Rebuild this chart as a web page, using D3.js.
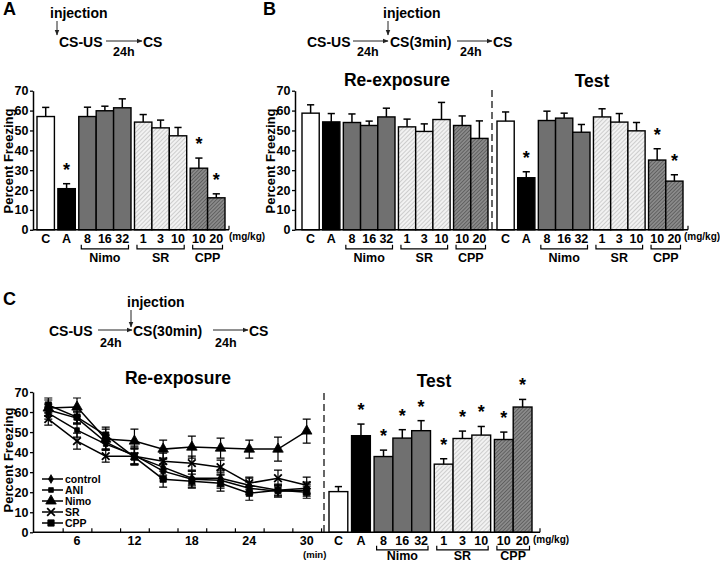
<!DOCTYPE html>
<html><head><meta charset="utf-8">
<script src="https://cdn.jsdelivr.net/npm/d3@7"></script>
<style>
body{margin:0;background:#fff}
svg{display:block}
text{font-family:"Liberation Sans",Arial,Helvetica,sans-serif;font-weight:bold;fill:#000}
</style>
</head><body>
<svg id="chart" width="720" height="564"></svg>
<script>
// ---------- data ----------
const barCats = ["C","A","8","16","32","1","3","10","10","20"];
const barGroups = ["C","A","Nimo","Nimo","Nimo","SR","SR","SR","CPP","CPP"];
const bracketGroups = ["Nimo","SR","CPP"];
const yTicks = [0,10,20,30,40,50,60,70];

// Panel A
const aMean = [57, 20.7, 57, 59.9, 61.4, 54.2, 51.3, 47.3, 31, 16.1];
const aErr  = [4.6, 2.5, 4.7, 2.3, 4.5, 3.8, 3.9, 4.2, 5.1, 2.0];
const aSig  = [0,1,0,0,0,0,0,0,1,1];

// Panel B re-exposure
const bReMean = [58.7, 54.3, 54, 52.5, 56.8, 51.8, 49.5, 55.5, 52.5, 46];
const bReErr  = [4.2, 4.2, 4.3, 2.2, 4.4, 3.9, 3.8, 8.6, 4.8, 8.8];
const bReSig  = [0,0,0,0,0,0,0,0,0,0];
// Panel B test
const bTeMean = [54.7, 26.2, 55, 56.2, 49.1, 56.8, 54.2, 49.8, 35.1, 24.5];
const bTeErr  = [4.6, 3.0, 4.7, 2.5, 3.9, 4.1, 4.3, 4.2, 5.7, 3.2];
const bTeSig  = [0,1,0,0,0,0,0,0,1,1];

// Panel C test
const cTeMean = [20.3, 48.2, 37.8, 47, 50.7, 34, 46.8, 48.5, 46.3, 62.5];
const cTeErr  = [2.5, 5.8, 3.2, 4.2, 5.0, 2.7, 3.7, 4.3, 3.7, 3.8];
const cTeSig  = [0,1,1,1,1,1,1,1,1,1];

// Panel C re-exposure time course
const minutes = [3,6,9,12,15,18,21,24,27,30];
const minuteLabels = [6,12,18,24,30];
const minuteTicks = [4.5,7.5,10.5,13.5,16.5,19.5,22.5,25.5,28.5,31.5];
const lineNames = ["control","ANI","Nimo","SR","CPP"];
const controlMean = [61, 57, 45, 38, 32.5, 27, 27, 23.5, 21, 22];
const controlErr  = [3, 3, 3.5, 4, 4, 3.5, 4, 3.5, 2.5, 3];
const aniMean = [59.5, 51, 44, 38.5, 30.5, 26.5, 26, 22, 20.5, 21];
const aniErr  = [3, 3.5, 3, 4.5, 3.5, 4, 4, 3, 3, 3];
const nimoMean = [62, 62.5, 46.5, 45.5, 41.5, 42.5, 42, 41.5, 41.5, 50.5];
const nimoErr  = [4, 4.5, 5, 6, 4.5, 5.5, 5, 4.5, 6, 6];
const srMean = [56.5, 45.5, 38, 38, 35.5, 34.5, 32.5, 24.5, 27, 23.5];
const srErr  = [3, 4, 3, 4, 4, 3.5, 3.5, 3, 4, 4];
const cppMean = [63.5, 57.5, 48.5, 37.5, 26.5, 25.5, 24.5, 19.5, 21, 20];
const cppErr  = [3.5, 3, 4, 4, 4, 3.5, 4, 3.5, 3, 3];

// ---------- setup ----------
const svg = d3.select("#chart");
const defs = svg.append("defs");

function hatch(id, bg, fg, w, sw){
  const p = defs.append("pattern").attr("id", id).attr("patternUnits","userSpaceOnUse")
    .attr("width", w).attr("height", w).attr("patternTransform","rotate(45)");
  p.append("rect").attr("width", w).attr("height", w).attr("fill", bg);
  p.append("line").attr("x1",0).attr("y1",0).attr("x2",0).attr("y2",w)
    .attr("stroke", fg).attr("stroke-width", sw);
}
hatch("srHatch", "#f2f2f2", "#a8a8a8", 3, 1);
hatch("cppHatch", "#8a8a8a", "#3c3c3c", 2.6, 1);

defs.append("marker").attr("id","arr").attr("viewBox","0 0 10 10")
  .attr("refX",9).attr("refY",5).attr("markerWidth",6).attr("markerHeight",6)
  .attr("orient","auto-start-reverse")
  .append("path").attr("d","M0,1 L10,5 L0,9 z").attr("fill","#222");

const fills = {C:"#ffffff", A:"#000000", Nimo:"#707070", SR:"url(#srHatch)", CPP:"url(#cppHatch)"};

function unitPositions(groups, gap){
  let u = 0;
  return groups.map((g,i)=>{ if(i>0 && g!==groups[i-1]) u += gap; const s=u; u+=1; return s; });
}
const units = unitPositions(barGroups, 0.2);
const totalUnits = units[units.length-1] + 1;

function yAxis(g, y, xPos){
  const ax = g.append("g").attr("transform",`translate(${xPos},0)`)
    .call(d3.axisLeft(y).tickValues(yTicks).tickSize(3).tickSizeOuter(0).tickPadding(1.5));
  ax.select(".domain").attr("stroke","#000").attr("stroke-width",1.5);
  ax.selectAll(".tick line").attr("stroke","#000").attr("stroke-width",1.3);
  ax.selectAll(".tick text").attr("font-size",12.5).attr("font-weight","bold")
    .attr("font-family","Liberation Sans, Arial, sans-serif").attr("fill","#000");
}

function yLabel(x, yc){
  svg.append("text").attr("transform",`translate(${x},${yc}) rotate(-90)`)
    .attr("text-anchor","middle").attr("dominant-baseline","central")
    .attr("font-size",13).text("Percent Freezing");
}

function barPanel(x0, x1, y, means, errs, sigs, bracketOffset, nameOffset){
  const x = d3.scaleLinear().domain([0,totalUnits]).range([x0,x1]);
  const bw = x(1) - x(0);
  const y0 = y(0);
  const g = svg.append("g");
  g.selectAll("rect.bar").data(means).join("rect")
    .attr("x",(d,i)=>x(units[i])).attr("width",bw)
    .attr("y",d=>y(d)).attr("height",d=>y0-y(d))
    .attr("fill",(d,i)=>fills[barGroups[i]])
    .attr("stroke","#000").attr("stroke-width",1.4);
  means.forEach((m,i)=>{
    const cx = x(units[i]) + bw/2;
    const top = y(m + errs[i]);
    g.append("line").attr("x1",cx).attr("x2",cx).attr("y1",y(m)).attr("y2",top)
      .attr("stroke","#000").attr("stroke-width",1.5);
    g.append("line").attr("x1",cx-3.6).attr("x2",cx+3.6).attr("y1",top).attr("y2",top)
      .attr("stroke","#000").attr("stroke-width",1.5);
    if(sigs[i]){
      g.append("text").attr("x",cx).attr("y",top-8).attr("text-anchor","middle")
        .attr("font-size",18).text("*");
    }
    g.append("text").attr("x",cx).attr("y",y0+13).attr("text-anchor","middle")
      .attr("font-size",12.5).text(barCats[i]);
  });
  bracketGroups.forEach(gr=>{
    const first = barGroups.indexOf(gr), last = barGroups.lastIndexOf(gr);
    const xa = x(units[first]) + 2.5, xb = x(units[last]) + bw - 2.5;
    const yb = y0 + bracketOffset;
    g.append("path").attr("d",`M${xa},${yb-4}V${yb}H${xb}V${yb-4}`)
      .attr("fill","none").attr("stroke","#000").attr("stroke-width",1.2);
    g.append("text").attr("x",(xa+xb)/2).attr("y",y0+nameOffset).attr("text-anchor","middle")
      .attr("font-size",12.5).text(gr);
  });
  return x;
}

function xAxisLine(xa, xb, yv){
  svg.append("line").attr("x1",xa).attr("x2",xb).attr("y1",yv).attr("y2",yv)
    .attr("stroke","#000").attr("stroke-width",1.5);
  svg.append("line").attr("x1",xb).attr("x2",xb).attr("y1",yv).attr("y2",yv-4)
    .attr("stroke","#000").attr("stroke-width",1.2);
}

function dashed(x, ya, yb){
  svg.append("line").attr("x1",x).attr("x2",x).attr("y1",ya).attr("y2",yb)
    .attr("stroke","#000").attr("stroke-width",1.2).attr("stroke-dasharray","7,4");
}

function txt(x, y, s, size, anchor){
  return svg.append("text").attr("x",x).attr("y",y).attr("font-size",size)
    .attr("text-anchor",anchor||"start").text(s);
}
function arrow(x1,y1,x2,y2){
  svg.append("line").attr("x1",x1).attr("y1",y1).attr("x2",x2).attr("y2",y2)
    .attr("stroke","#222").attr("stroke-width",1).attr("marker-end","url(#arr)");
}

// ---------- Panel A ----------
const yAB = d3.scaleLinear().domain([0,70]).range([229.8, 90.7]);
txt(3, 15, "A", 18);
txt(50, 18, "injection", 14);
arrow(57, 21, 57, 35);
txt(59, 47, "CS-US", 14);
arrow(106, 41, 142, 41);
txt(113, 56, "24h", 12.5);
txt(143, 47, "CS", 14);

barPanel(37, 225, yAB, aMean, aErr, aSig, 19, 32);
xAxisLine(33, 229, yAB(0));
yAxis(svg, yAB, 33);
yLabel(8, 161);
txt(229, 240, "(mg/kg)", 10);

// ---------- Panel B ----------
txt(263, 15, "B", 18);
txt(383, 18, "injection", 14);
arrow(388, 21, 388, 35);
txt(307, 47, "CS-US", 14);
arrow(353, 41, 388, 41);
txt(357, 56, "24h", 12.5);
txt(390, 47, "CS(3min)", 14);
arrow(457, 41, 492, 41);
txt(460, 56, "24h", 12.5);
txt(493, 47, "CS", 14);

txt(397, 86, "Re-exposure", 17.5, "middle");
txt(592, 87, "Test", 17.5, "middle");
barPanel(302, 488, yAB, bReMean, bReErr, bReSig, 19, 32);
barPanel(497, 683, yAB, bTeMean, bTeErr, bTeSig, 19, 32);
xAxisLine(295, 688, yAB(0));
yAxis(svg, yAB, 295);
yLabel(270, 161);
dashed(492, 90, 232);
txt(684, 240, "(mg/kg)", 10);

// ---------- Panel C ----------
const yC = d3.scaleLinear().domain([0,70]).range([532.3, 392]);
txt(3, 305, "C", 18);
txt(127, 307, "injection", 14);
arrow(131, 310, 131, 327);
txt(49, 336, "CS-US", 14);
arrow(98, 330, 132, 330);
txt(100, 347, "24h", 12.5);
txt(133, 336, "CS(30min)", 14);
arrow(213, 330, 248, 330);
txt(215, 347, "24h", 12.5);
txt(249, 336, "CS", 14);

txt(178, 384, "Re-exposure", 17.5, "middle");
txt(434, 387, "Test", 17.5, "middle");

const xMin = d3.scaleLinear().domain([3,30]).range([48.3, 306.7]);
const xAx = svg.append("g").attr("transform",`translate(0,${yC(0)})`)
  .call(d3.axisBottom(xMin).tickValues(minuteTicks).tickSizeInner(-4).tickSizeOuter(0).tickFormat(""));
xAx.select(".domain").remove();
xAx.selectAll(".tick line").attr("stroke","#000").attr("stroke-width",1.2);
minuteLabels.forEach(m=> txt(xMin(m), yC(0)+13, String(m), 12.5, "middle"));
txt(xMin(30)+8, 558, "(min)", 9.5, "middle");

barPanel(329, 532, yC, cTeMean, cTeErr, cTeSig, 17.5, 28);
xAxisLine(33, 540, yC(0));
yAxis(svg, yC, 33);
yLabel(8, 460);
dashed(324, 393, 532);
txt(533, 543, "(mg/kg)", 10);

const lineSeries = [
  {name:lineNames[0], mean:controlMean, err:controlErr, sym:d3.symbolDiamond, size:22},
  {name:lineNames[1], mean:aniMean, err:aniErr, sym:d3.symbolSquare, size:22},
  {name:lineNames[2], mean:nimoMean, err:nimoErr, sym:d3.symbolTriangle, size:48},
  {name:lineNames[3], mean:srMean, err:srErr, sym:d3.symbolTimes, size:40, stroke:true},
  {name:lineNames[4], mean:cppMean, err:cppErr, sym:d3.symbolSquare, size:40}
];
const lineGen = d3.line().x((d,i)=>xMin(minutes[i])).y(d=>yC(d));
const lg = svg.append("g");
lineSeries.forEach(s=>{
  s.mean.forEach((m,i)=>{
    const cx = xMin(minutes[i]);
    const ya = yC(m - s.err[i]), yb = yC(m + s.err[i]);
    lg.append("path").attr("d",`M${cx},${ya}V${yb}M${cx-4},${ya}H${cx+4}M${cx-4},${yb}H${cx+4}`)
      .attr("stroke","#000").attr("stroke-width",1.2).attr("fill","none");
  });
});
function drawSym(g, s, cx, cy){
  const p = g.append("path").attr("transform",`translate(${cx},${cy})`)
    .attr("d", d3.symbol().type(s.sym).size(s.size)());
  if(s.stroke) p.attr("fill","none").attr("stroke","#000").attr("stroke-width",1.8);
  else p.attr("fill","#000").attr("stroke","#000").attr("stroke-width",0.8);
}
lineSeries.forEach(s=>{
  lg.append("path").attr("d", lineGen(s.mean)).attr("fill","none")
    .attr("stroke","#000").attr("stroke-width",1.5);
  s.mean.forEach((m,i)=> drawSym(lg, s, xMin(minutes[i]), yC(m)));
});
// legend
lineSeries.forEach((s,i)=>{
  const yy = 479 + i*11;
  svg.append("line").attr("x1",42).attr("x2",63).attr("y1",yy).attr("y2",yy)
    .attr("stroke","#000").attr("stroke-width",1.5);
  drawSym(svg, s, 51, yy);
  txt(65, yy+3.8, s.name, 10.5);
});
</script>
</body></html>
